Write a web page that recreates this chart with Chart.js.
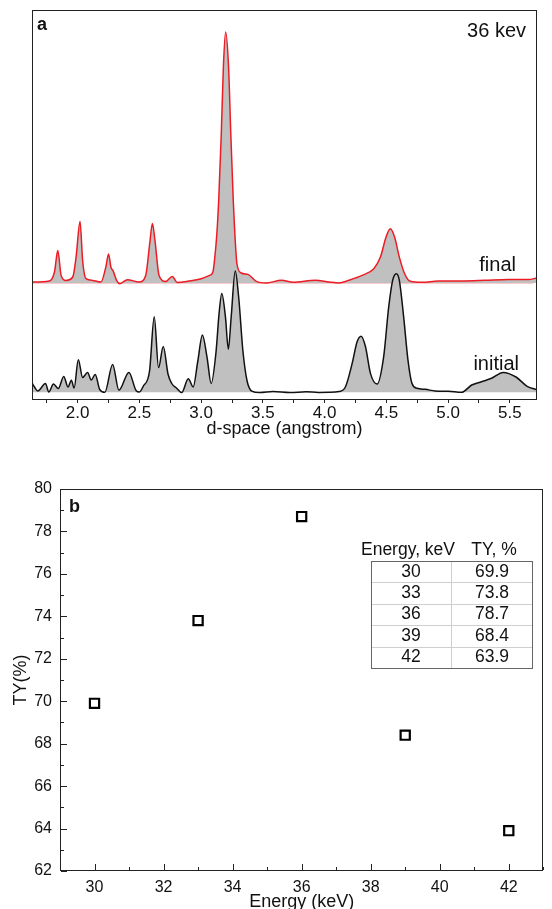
<!DOCTYPE html>
<html>
<head>
<meta charset="utf-8">
<script src="https://cdn.jsdelivr.net/npm/chart.js@4.4.0/dist/chart.umd.min.js"></script>
<style>
html, body { margin: 0; padding: 0; background: #fff; overflow: hidden; }
#wrapA { position: absolute; left: 0; top: 0; }
#wrapB { position: absolute; left: 0; top: 440px; }
</style>
</head>
<body>
<div id="wrapA"><canvas id="chartA" width="552" height="440"></canvas></div>
<div id="wrapB"><canvas id="chartB" width="552" height="480"></canvas></div>
<script>
var FONT = '"Liberation Sans", Arial, sans-serif';

// panel a: d-space (angstrom) vs stacked intensity (arbitrary units)
var dMin = 1.63;
var dMax = 5.72;
var finalBase = 117;
var initialBase = 7.7;

var finalD = [1.63, 1.771, 1.812, 1.839, 1.866, 1.906, 1.96, 1.987, 2.019, 2.04, 2.067, 2.121,
    2.188, 2.228, 2.25, 2.269, 2.288, 2.315, 2.341, 2.403, 2.497, 2.551, 2.583, 2.605, 2.626,
    2.659, 2.712, 2.766, 2.806, 2.9, 3.0, 3.068, 3.095, 3.108, 3.127, 3.142, 3.163, 3.18, 3.198,
    3.222, 3.24, 3.26, 3.273, 3.29, 3.325, 3.379, 3.447, 3.528, 3.65, 3.745, 3.925, 4.035,
    4.116, 4.196, 4.304, 4.398, 4.452, 4.497, 4.532, 4.567, 4.605, 4.648, 4.694, 4.788, 4.922,
    5.11, 5.298, 5.487, 5.65, 5.72];
var finalY = [118, 119, 128, 149.4, 124.6, 119.6, 123, 142.8, 178.6, 139.5, 121.3, 119.6,
    118, 132.9, 146.1, 132.9, 128.9, 119.6, 116.3, 120.3, 118, 124.6, 156, 176.6, 159.4,
    124.6, 118.6, 123.6, 117.6, 119, 121.3, 124.6, 128, 139.6, 166, 199.4, 266, 333, 368,
    333, 266, 199.4, 166, 136, 127, 125.6, 118.6, 117, 119.7, 117.7, 119.7, 118,
    117, 119.7, 124.6, 131.3, 142.9, 162.8, 171.2, 162.8, 142.9, 126.3, 118.7, 117.7, 119,
    119, 119.7, 120.6, 120.5, 122];

var initialD = [1.63, 1.65, 1.677, 1.739, 1.766, 1.804, 1.843, 1.887, 1.922, 1.949, 1.971, 2.005,
    2.04, 2.08, 2.11, 2.142, 2.178, 2.22, 2.283, 2.334, 2.415, 2.474, 2.5, 2.532, 2.582,
    2.62, 2.655, 2.693, 2.732, 2.762, 2.8, 2.842, 2.896, 2.935, 2.973, 3.01, 3.048, 3.081,
    3.12, 3.145, 3.167, 3.197, 3.22, 3.243, 3.276, 3.305, 3.338, 3.372, 3.41, 3.474, 3.583,
    3.718, 3.85, 3.95, 4.035, 4.116, 4.169, 4.223, 4.263, 4.296, 4.331, 4.371, 4.425, 4.478,
    4.519, 4.551, 4.581, 4.605, 4.64, 4.675, 4.707, 4.747, 4.815, 4.895, 5.003, 5.11, 5.191,
    5.271, 5.352, 5.446, 5.55, 5.64, 5.72];
var initialY = [17, 13, 9, 16.5, 8, 16, 11.5, 23.5, 13, 19.8, 11.9, 40.2,
    22.5, 27.5, 19.9, 25.5, 10.7, 7.7, 35.5, 9.8, 27.5, 9.3, 8, 14, 29,
    83.2, 32.4, 53.5, 25.8, 16.5, 12, 7.4, 21.3, 13, 39, 65, 42.4, 16.5,
    47.5, 86.4, 106.6, 82.7, 50.8, 82.7, 129, 101.2, 49.2, 19, 8.9, 7.4, 8.4,
    7.4, 8.2, 7.6, 7.7, 8.4, 13.3, 36.6, 58.2, 63.8, 53.2, 26.6, 16, 43.2,
    93.1, 119.7, 126.3, 119.7, 83.1, 39.9, 16.7, 11.7, 10.7, 9, 8.7, 7.7, 15,
    18.3, 21.7, 27.6, 23, 13.7, 10.3];

// panel b: transmission yield vs energy
var energy = [30, 33, 36, 39, 42];
var ty = [69.9, 73.8, 78.7, 68.4, 63.9];

function toPoints(xs, ys) {
    var pts = [];
    xs.forEach(function(x, i) {
        pts.push({x: x, y: ys[i]});
    });
    return pts;
}

var framePlugin = {
    id: 'frame',
    afterDraw: function(chart) {
        var a = chart.chartArea;
        var ctx = chart.ctx;
        ctx.save();
        ctx.strokeStyle = '#222';
        ctx.lineWidth = 1;
        ctx.strokeRect(Math.round(a.left) + 0.5, Math.round(a.top) + 0.5,
            Math.round(a.right - a.left) - 1, Math.round(a.bottom - a.top) - 1);
        ctx.restore();
    }
};

// tick marks pointing into the plot (panel b)
var innerTicks = {
    id: 'innerTicks',
    afterDraw: function(chart) {
        var ctx = chart.ctx;
        var a = chart.chartArea;
        var xs = chart.scales.x;
        var ys = chart.scales.y;
        ctx.save();
        ctx.strokeStyle = '#222';
        ctx.lineWidth = 1;
        ctx.beginPath();
        xs.ticks.forEach(function(t) {
            var px = Math.round(xs.getPixelForValue(t.value)) + 0.5;
            var len = t.value % 2 === 0 ? 6 : 3;
            ctx.moveTo(px, a.bottom - 1);
            ctx.lineTo(px, a.bottom - 1 - len);
        });
        ys.ticks.forEach(function(t) {
            var py = Math.round(ys.getPixelForValue(t.value)) + 0.5;
            var len = t.value % 2 === 0 ? 6 : 3;
            ctx.moveTo(a.left + 1, py);
            ctx.lineTo(a.left + 1 + len, py);
        });
        ctx.stroke();
        ctx.restore();
    }
};

var labelsA = {
    id: 'labelsA',
    afterDraw: function(chart) {
        var ctx = chart.ctx;
        var a = chart.chartArea;
        ctx.save();
        ctx.fillStyle = '#111';
        ctx.textBaseline = 'alphabetic';
        ctx.textAlign = 'left';
        ctx.font = 'bold 18px ' + FONT;
        ctx.fillText('a', a.left + 5, a.top + 20);
        ctx.font = '20px ' + FONT;
        ctx.textAlign = 'right';
        ctx.fillText('36 kev', a.right - 11, a.top + 27);
        ctx.fillText('final', a.right - 21, 271);
        ctx.fillText('initial', a.right - 18, 370);
        ctx.restore();
    }
};

var labelsB = {
    id: 'labelsB',
    afterDraw: function(chart) {
        var ctx = chart.ctx;
        var a = chart.chartArea;
        ctx.save();
        ctx.fillStyle = '#111';
        ctx.textBaseline = 'alphabetic';
        ctx.textAlign = 'left';
        ctx.font = 'bold 18px ' + FONT;
        ctx.fillText('b', a.left + 9, a.top + 23);

        // small table of values
        var tx = 371, tw = 161, top = 121, rh = 21.4, colX = 451;
        ctx.font = '17.5px ' + FONT;
        ctx.textAlign = 'center';
        ctx.textBaseline = 'middle';
        ctx.fillText('Energy, keV', 408, 110);
        ctx.fillText('TY, %', 494, 110);

        ctx.strokeStyle = '#cfcfcf';
        ctx.lineWidth = 1;
        ctx.beginPath();
        for (var i = 1; i < energy.length; i++) {
            var ly = Math.round(top + i * rh) + 0.5;
            ctx.moveTo(tx, ly);
            ctx.lineTo(tx + tw, ly);
        }
        ctx.moveTo(colX + 0.5, top);
        ctx.lineTo(colX + 0.5, top + rh * energy.length);
        ctx.stroke();
        ctx.strokeStyle = '#666';
        ctx.strokeRect(tx + 0.5, top + 0.5, tw, Math.round(rh * energy.length));

        energy.forEach(function(e, i) {
            var cy = top + rh * (i + 0.5);
            ctx.fillText(String(e), 411, cy);
            ctx.fillText(ty[i].toFixed(1), 492, cy);
        });
        ctx.restore();
    }
};

new Chart(document.getElementById('chartA'), {
    type: 'line',
    data: {
        datasets: [{
            label: 'initial',
            data: toPoints(initialD, initialY),
            borderColor: '#111',
            borderWidth: 1.5,
            backgroundColor: '#c0c0c0',
            fill: {value: initialBase},
            pointRadius: 0,
            cubicInterpolationMode: 'monotone'
        }, {
            label: 'final',
            data: toPoints(finalD, finalY),
            borderColor: '#ec1c24',
            borderWidth: 1.5,
            backgroundColor: '#c0c0c0',
            fill: {value: finalBase},
            pointRadius: 0,
            cubicInterpolationMode: 'monotone'
        }, {
            label: 'base',
            data: [{x: dMin, y: finalBase}, {x: 5.69, y: finalBase}],
            borderColor: 'rgba(236, 28, 36, 0.45)',
            borderWidth: 1,
            pointRadius: 0,
            fill: false
        }]
    },
    options: {
        responsive: false,
        animation: false,
        layout: {padding: {left: 32, right: 15, top: 10, bottom: 0}},
        plugins: {legend: {display: false}, tooltip: {enabled: false}},
        scales: {
            x: {
                type: 'linear',
                min: dMin,
                max: dMax,
                afterFit: function(s) { s.height = 40; },
                border: {display: false},
                grid: {drawOnChartArea: false, tickLength: 3, tickColor: '#222'},
                ticks: {
                    stepSize: 0.25,
                    includeBounds: false,
                    autoSkip: false,
                    maxRotation: 0,
                    padding: 0,
                    color: '#111',
                    font: {family: FONT, size: 17},
                    callback: function(v) {
                        return Math.round(v * 4) % 2 === 0 ? v.toFixed(1) : '';
                    }
                },
                title: {
                    display: true,
                    text: 'd-space (angstrom)',
                    color: '#111',
                    font: {family: FONT, size: 18},
                    padding: {top: 0, bottom: 0}
                }
            },
            y: {display: false, min: 0, max: 390}
        }
    },
    plugins: [framePlugin, labelsA]
});

new Chart(document.getElementById('chartB'), {
    type: 'scatter',
    data: {
        datasets: [{
            label: 'TY',
            data: toPoints(energy, ty),
            pointStyle: 'rect',
            pointRadius: 6.5,
            pointBorderWidth: 2.2,
            pointBorderColor: '#000',
            pointBackgroundColor: '#fff'
        }]
    },
    options: {
        responsive: false,
        animation: false,
        layout: {padding: {left: 0, right: 1, top: 49, bottom: 0}},
        plugins: {legend: {display: false}, tooltip: {enabled: false}},
        scales: {
            x: {
                type: 'linear',
                min: 29,
                max: 43,
                afterFit: function(s) { s.height = 49; },
                border: {display: false},
                // invisible outer tick space keeps labels off the axis; real ticks are drawn inside
                grid: {drawOnChartArea: false, drawTicks: true, tickLength: 7, tickColor: 'rgba(0,0,0,0)'},
                ticks: {
                    stepSize: 1,
                    autoSkip: false,
                    maxRotation: 0,
                    padding: 0,
                    color: '#111',
                    font: {family: FONT, size: 16},
                    callback: function(v) { return v % 2 === 0 ? String(v) : ''; }
                },
                title: {
                    display: true,
                    text: 'Energy (keV)',
                    color: '#111',
                    font: {family: FONT, size: 18},
                    padding: {top: 0, bottom: 7}
                }
            },
            y: {
                type: 'linear',
                min: 62,
                max: 80,
                afterFit: function(s) { s.width = 60; },
                border: {display: false},
                grid: {display: false, drawTicks: false},
                ticks: {
                    stepSize: 1,
                    autoSkip: false,
                    padding: 8,
                    color: '#111',
                    font: {family: FONT, size: 16},
                    callback: function(v) { return v % 2 === 0 ? String(v) : ''; }
                },
                title: {
                    display: true,
                    text: 'TY(%)',
                    color: '#111',
                    font: {family: FONT, size: 18},
                    padding: {top: 10, bottom: 0}
                }
            }
        }
    },
    plugins: [framePlugin, innerTicks, labelsB]
});
</script>
</body>
</html>
